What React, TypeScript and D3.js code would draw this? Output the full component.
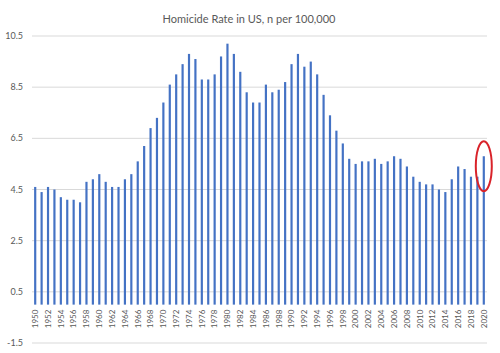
import React from "react";
import * as d3 from "d3";

const years: number[] = d3.range(1950, 2021);
const rates: number[] = [
  4.6, 4.4, 4.6, 4.5, 4.2, 4.1, 4.1, 4.0, 4.8, 4.9,
  5.1, 4.8, 4.6, 4.6, 4.9, 5.1, 5.6, 6.2, 6.9, 7.3,
  7.9, 8.6, 9.0, 9.4, 9.8, 9.6, 8.8, 8.8, 9.0, 9.7,
  10.2, 9.8, 9.1, 8.3, 7.9, 7.9, 8.6, 8.3, 8.4, 8.7,
  9.4, 9.8, 9.3, 9.5, 9.0, 8.2, 7.4, 6.8, 6.3, 5.7,
  5.5, 5.6, 5.6, 5.7, 5.5, 5.6, 5.8, 5.7, 5.4, 5.0,
  4.8, 4.7, 4.7, 4.5, 4.4, 4.9, 5.4, 5.3, 5.0, 5.0,
  5.8,
];
const yTicks: number[] = [-1.5, 0.5, 2.5, 4.5, 6.5, 8.5, 10.5];
const title = "Homicide Rate in US, n per 100,000";
const highlightYear = 2020;

const W = 500;
const H = 353;

export default function App() {
  const x = d3
    .scaleBand<number>()
    .domain(years)
    .range([32, 487])
    .paddingInner(0.66)
    .paddingOuter(0.33);
  const y = d3.scaleLinear().domain([-1.5, 10.5]).range([343, 36]);
  const bw = x.bandwidth();
  const hi = rates[years.indexOf(highlightYear)];
  const hx = (x(highlightYear) as number) + bw / 2;

  return (
    <svg
      width={W}
      height={H}
      style={{ position: "absolute", left: 0, top: 0, background: "#fff" }}
    >
      <rect width={W} height={H} fill="#fff" />
      <text
        x={249}
        y={23}
        textAnchor="middle"
        fontFamily="Lato, 'Open Sans', sans-serif"
        fontSize={11}
        fill="#595959"
      >
        {title}
      </text>
      {yTicks.map((t) => (
        <g key={t}>
          <line x1={32} x2={487} y1={y(t)} y2={y(t)} stroke="#d9d9d9" strokeWidth={1} />
          <text
            x={23}
            y={y(t)}
            dy="0.35em"
            textAnchor="end"
            fontFamily="Lato, 'Open Sans', sans-serif"
            fontSize={9}
            fill="#595959"
          >
            {t.toFixed(1)}
          </text>
        </g>
      ))}
      {years.map((yr, i) => (
        <rect
          key={yr}
          x={x(yr)}
          y={y(rates[i])}
          width={bw}
          height={y(0) - y(rates[i])}
          fill="#4472C4"
        />
      ))}
      {years
        .filter((yr) => yr % 2 === 0)
        .map((yr) => (
          <text
            key={yr}
            transform={`translate(${(x(yr) as number) + bw / 2},${y(0) + 5}) rotate(-90)`}
            textAnchor="end"
            dy="0.35em"
            fontFamily="Lato, 'Open Sans', sans-serif"
            fontSize={8}
            fill="#595959"
          >
            {yr}
          </text>
        ))}
      <ellipse
        cx={hx}
        cy={y(hi) + 10}
        rx={8}
        ry={25}
        fill="none"
        stroke="#d9232a"
        strokeWidth={2}
      />
    </svg>
  );
}
